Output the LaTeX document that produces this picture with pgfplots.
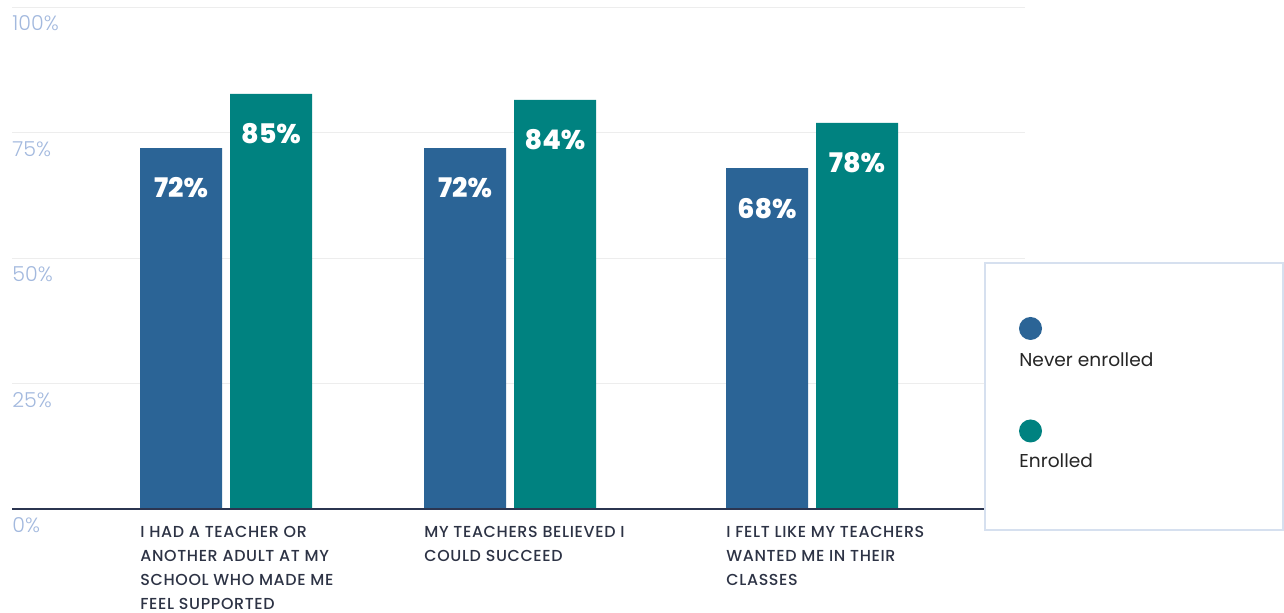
\documentclass[border=0pt]{standalone}
\usepackage{pgfplots}
\usepackage{pgfplotstable}
\pgfplotsset{compat=1.18}
\usepackage{fontspec}
\setmainfont{Poppins}
\newfontfamily\poplight{Poppins Light}
\newfontfamily\popmed{Poppins Medium}[LetterSpace=4]
\newfontfamily\popxb{Poppins ExtraBold}
\definecolor{cblue}{HTML}{2B6496}
\definecolor{cteal}{HTML}{008280}
\definecolor{ticktxt}{HTML}{A3B9DE}
\definecolor{gridc}{HTML}{EDEDED}
\definecolor{basec}{HTML}{2B3550}
\definecolor{cattxt}{HTML}{2D3345}
\definecolor{legbord}{HTML}{D6E0EF}

\pgfplotstableread{
x y lab
181 72.0 72
465 72.0 72
767 68.0 68
}\never
\pgfplotstableread{
x y lab
271 82.8 85
555 81.6 84
857 77.0 78
}\enrolled

\begin{document}
\begin{tikzpicture}
\useasboundingbox (0,0) rectangle (642pt,306.5pt);
\begin{axis}[
  at={(6pt,51.75pt)}, anchor=south west,
  scale only axis, width=506.5pt, height=251pt,
  xmin=12, xmax=1025, ymin=0, ymax=100,
  axis line style={draw=none},
  major tick length=0pt,
  ytick={0,25,50,75,100},
  yticklabels={0\%,25\%,50\%,75\%,100\%},
  yticklabel style={anchor=north west, inner sep=0pt, xshift=0pt, yshift=-4pt,
    font=\poplight\fontsize{10.3}{11}\selectfont, text=ticktxt},
  ymajorgrids, grid style={gridc, line width=0.5pt},
  xtick={140,424,726},
  xticklabels={{I HAD A TEACHER OR\\ANOTHER ADULT AT MY\\SCHOOL WHO MADE ME\\FEEL SUPPORTED},
               {MY TEACHERS BELIEVED I\\COULD SUCCEED},
               {I FELT LIKE MY TEACHERS\\WANTED ME IN THEIR\\CLASSES}},
  xticklabel style={anchor=north west, align=left, inner sep=0pt, yshift=-8.3pt,
    font=\popmed\fontsize{7.95}{12}\selectfont, text=cattxt},
  ybar, bar width=82,
  point meta=explicit symbolic,
  nodes near coords={\pgfplotspointmeta\%},
  nodes near coords style={anchor=center, yshift=-20pt, text=white,
    font=\popxb\fontsize{13.5}{15}\selectfont},
  clip=false,
]
\addplot[fill=cblue, draw=none, bar shift=0pt] table[x=x, y=y, meta=lab] {\never};
\addplot[fill=cteal, draw=none, bar shift=0pt] table[x=x, y=y, meta=lab] {\enrolled};
\draw[basec, line width=1pt] (axis cs:12,0) -- (axis cs:1025,0);
\end{axis}
\begin{scope}[x=0.5pt, y=-0.5pt, yshift=306.5pt]
  \draw[legbord, line width=1pt, fill=white] (985,263) rectangle (1283,530.5);
  \fill[cblue] (1030.5,328.5) circle (11.5);
  \fill[cteal] (1030.5,431) circle (11.5);
  \node[anchor=base west, inner sep=0pt, text=black!85, font=\fontsize{9.3}{10}\selectfont] at (1019,367) {Never enrolled};
  \node[anchor=base west, inner sep=0pt, text=black!85, font=\fontsize{9.3}{10}\selectfont] at (1019,468) {Enrolled};
\end{scope}
\end{tikzpicture}
\end{document}
